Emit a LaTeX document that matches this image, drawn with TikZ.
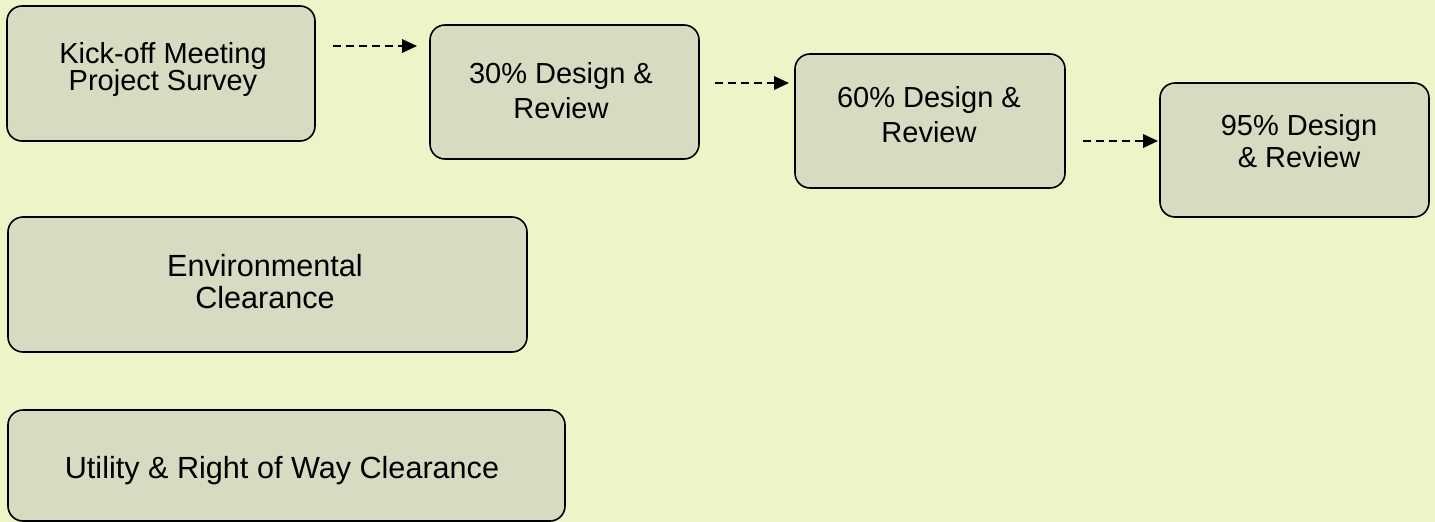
\documentclass[tikz,border=0pt]{standalone}
\usepackage{fontspec}
\setmainfont{Liberation Sans}
\usetikzlibrary{arrows.meta}
\definecolor{bgcol}{RGB}{236,245,200}
\definecolor{boxfill}{RGB}{215,219,193}
\tikzset{
  stagebox/.style={draw=black, fill=boxfill, line width=1.6pt, rounded corners=15pt,
    inner sep=0pt, outer sep=0pt},
  lbl/.style={anchor=base, inner sep=0pt, font=\fontsize{29}{33}\selectfont, text=black},
  biglbl/.style={lbl, font=\fontsize{30.6}{35}\selectfont},
  flow/.style={draw=black, line width=2pt, dash pattern=on 8pt off 5pt,
    -{Triangle[length=15pt,width=13.5pt]}}
}
\begin{document}
\begin{tikzpicture}[x=1pt,y=-1pt]
\useasboundingbox (0,0) rectangle (1435,522);
\fill[bgcol] (0,0) rectangle (1435,522);

% boxes
\node[stagebox, minimum width=308pt, minimum height=135pt] (b1) at (161,73.5) {};
\node[stagebox, minimum width=269pt, minimum height=134pt] (b2) at (564.5,92) {};
\node[stagebox, minimum width=270pt, minimum height=134pt] (b3) at (930,121) {};
\node[stagebox, minimum width=269pt, minimum height=134pt] (b4) at (1294.5,150) {};
\node[stagebox, minimum width=519pt, minimum height=135pt] (b5) at (267.5,284.5) {};
\node[stagebox, minimum width=557pt, minimum height=111pt] (b6) at (286.5,465.5) {};

% labels
\node[lbl] (t1a) at (163,63) {Kick-off Meeting};
\node[lbl] (t1b) at (163,90) {Project Survey};
\node[lbl] (t2a) at (561,83) {30\% Design \&};
\node[lbl] (t2b) at (561,118) {Review};
\node[lbl] (t3a) at (929,107) {60\% Design \&};
\node[lbl] (t3b) at (929,142) {Review};
\node[lbl] (t4a) at (1299,135) {95\% Design};
\node[lbl] (t4b) at (1299,167) {\& Review};
\node[biglbl] (t5a) at (265,276) {Environmental};
\node[biglbl] (t5b) at (265,308) {Clearance};
\node[biglbl] (t6) at (282,478) {Utility \& Right of Way Clearance};

% connectors
\draw[flow, shorten <=18pt, shorten >=13pt] (b1.east |- 0,46) -- (b2.west |- 0,46);
\draw[flow, shorten <=16pt, shorten >=6pt] (b2.east |- 0,83) -- (b3.west |- 0,83);
\draw[flow, shorten <=18pt, shorten >=2pt] (b3.east |- 0,141) -- (b4.west |- 0,141);
\end{tikzpicture}
\end{document}
